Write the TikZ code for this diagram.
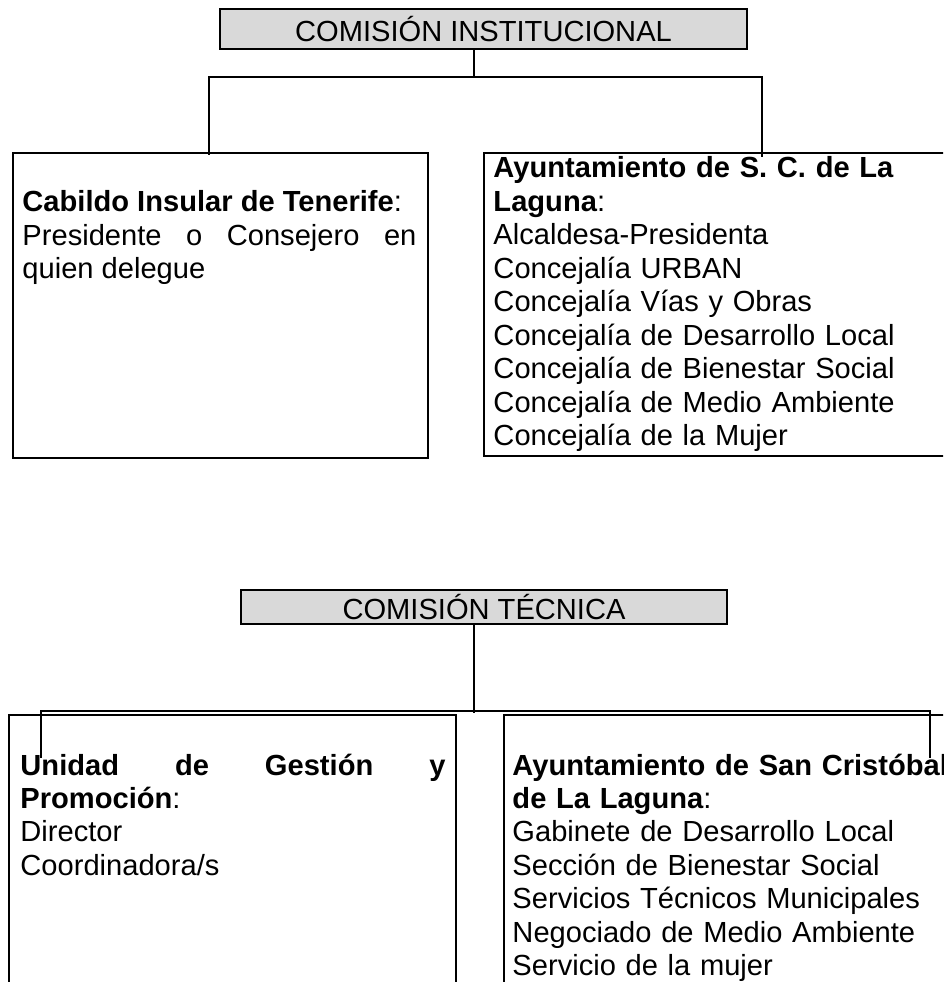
\documentclass[tikz,border=0pt]{standalone}
\usepackage{fontspec}
\setmainfont{Liberation Sans}
\newlength\px
\setlength\px{0.4124pt}
\definecolor{grisclaro}{HTML}{D9D9D9}
\hyphenpenalty=10000
\exhyphenpenalty=10000
\tolerance=10000
\begin{document}
\begin{tikzpicture}[x=\px,y=-\px]
		\tikzstyle{titulo}=[draw,line width=0.85pt,fill=grisclaro,inner sep=0pt,font={\fontsize{12pt}{13.8pt}\selectfont}]
		\tikzstyle{caja}=[draw,line width=0.85pt,inner sep=0pt,anchor=north west]
		\tikzstyle{texto}=[inner sep=0pt,anchor=base west,font={\fontsize{12pt}{13.8pt}\selectfont}]
		\tikzstyle{linea}=[line width=0.65pt]
		
		\useasboundingbox (0,0) rectangle (943,982);
		\clip (0,0) rectangle (943,982);
		
		\node[titulo,minimum width=527\px,minimum height=40\px] (inst) at (483.5,29) {COMISIÓN INSTITUCIONAL};
		\node[caja,minimum width=415\px,minimum height=305\px] (cabildo) at (12,152) {};
		\node[caja,minimum width=500\px,minimum height=303\px] (ayto) at (483,152) {};
		\node[texto,text width=394\px,align=justify] (cabildoT) at (22,212)
			{\textbf{Cabildo Insular de Tenerife}:\\ Presidente o Consejero en quien delegue};
		\node[texto,text width=430\px,align=left] (aytoT) at (493,178)
			{\textbf{Ayuntamiento de S. C. de La Laguna}:\\ Alcaldesa-Presidenta\\ Concejalía URBAN\\ Concejalía Vías y Obras\\ Concejalía de Desarrollo Local\\ Concejalía de Bienestar Social\\ Concejalía de Medio Ambiente\\ Concejalía de la Mujer};
		
		\coordinate (tM) at (474,77);
		\coordinate (tA) at (209,155);
		\coordinate (tB) at (762,157);
		\draw[linea] (inst.south -| tM)--(tM);
		\draw[linea] (tA) |- (tM) -| (tB);
		
		\node[titulo,minimum width=486\px,minimum height=34\px] (tec) at (484,607) {COMISIÓN TÉCNICA};
		\node[caja,minimum width=447\px,minimum height=300\px] (unidad) at (8,714) {};
		\node[caja,minimum width=480\px,minimum height=300\px] (aytoSC) at (503,714) {};
		\node[texto,text width=425\px,align=justify] (unidadT) at (20,775)
			{\textbf{Unidad de Gestión y Promoción}:\\ Director\\ Coordinadora/s};
		\node[texto,text width=450\px,align=left] (aytoSCT) at (512,775)
			{\textbf{Ayuntamiento de San Cristóbal de La Laguna}:\\ Gabinete de Desarrollo Local\\ Sección de Bienestar Social\\ Servicios Técnicos Municipales\\ Negociado de Medio Ambiente\\ Servicio de la mujer};
		
		\coordinate (bM) at (474,711);
		\coordinate (bA) at (41,758);
		\coordinate (bB) at (930,758);
		\draw[linea] (tec.south -| bM)--([yshift=-1.5\px]bM);
		\draw[linea] (bA) |- (bM) -| (bB);
	\end{tikzpicture}
\end{document}
